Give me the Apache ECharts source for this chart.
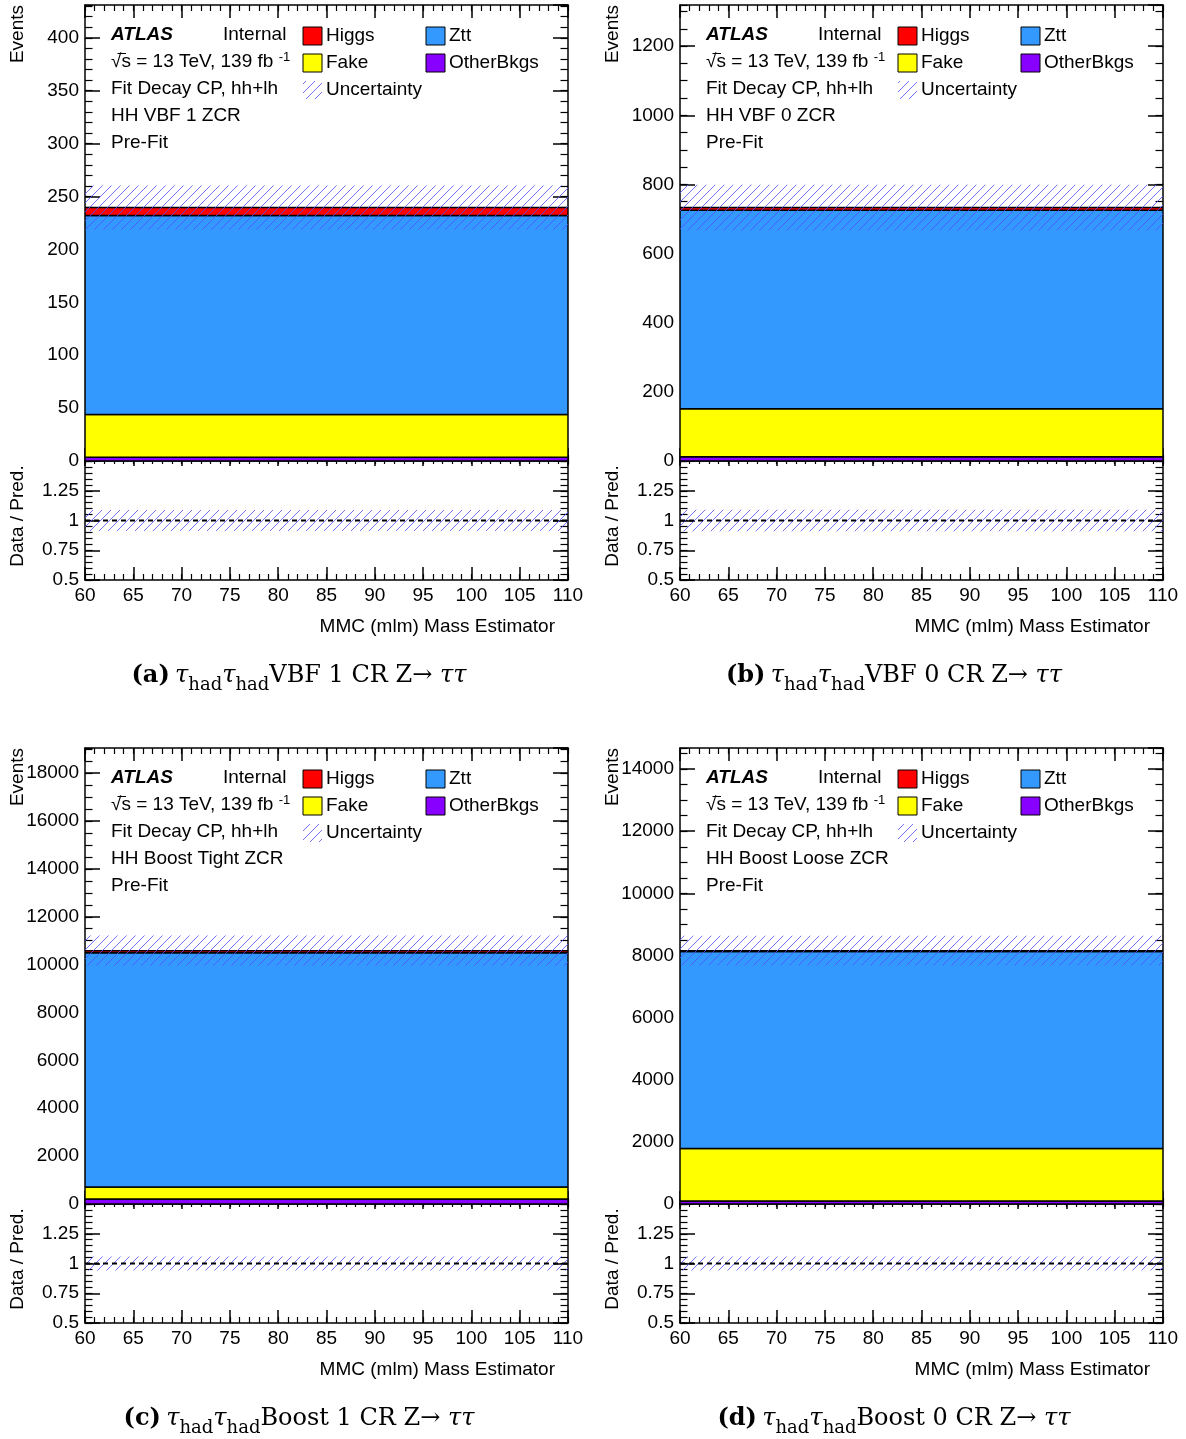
<!DOCTYPE html>
<html>
<head>
<meta charset="utf-8">
<script src="https://cdn.jsdelivr.net/npm/echarts@6/dist/echarts.min.js"></script>
<style>
  html, body { margin: 0; padding: 0; background: #fff; }
  #c { width: 1186px; height: 1439px; }
</style>
</head>
<body>
<div id="c"></div>
<script>
// Pre-fit yields in the Z->tautau control regions, one MMC bin from 60 to 110
const panelTags = ['(a)', '(b)', '(c)', '(d)'];
const regionLabels = ['HH VBF 1 ZCR', 'HH VBF 0 ZCR', 'HH Boost Tight ZCR', 'HH Boost Loose ZCR'];
const captionTexts = ['VBF 1 CR Z→ ', 'VBF 0 CR Z→ ', 'Boost 1 CR Z→ ', 'Boost 0 CR Z→ '];
const otherBkgs = [3.5, 12, 210, 100];
const fake = [40.5, 139, 500, 1690];
const ztt = [188, 574, 9790, 6340];
const higgs = [7.5, 8, 85, 25];
const uncertainty = [21, 66, 630, 480];
const eventsMax = [431, 1319, 19050, 14680];
const eventsMajor = [50, 200, 2000, 2000];
const eventsMinor = [10, 50, 500, 500];
const massRange = [60, 110];
const ratioRange = [0.5, 1.5];

const COLORS = { higgs: '#ff0000', ztt: '#3399ff', fake: '#ffff00', other: '#8800ff' };
const FONT = '"Liberation Sans", Arial, Helvetica, sans-serif';
const SERIF = '"DejaVu Serif", "Liberation Serif", serif';
const FS = 19;

// panel geometry
const colX = [85, 680], rowY = [5, 748];
const FW = 483, MH = 456, RH = 119;

function makeHatch() {
  const s = 9, c = document.createElement('canvas');
  c.width = s; c.height = s;
  const g = c.getContext('2d');
  g.strokeStyle = 'rgba(80,80,255,0.8)';
  g.lineWidth = 1;
  g.beginPath();
  g.moveTo(0, s); g.lineTo(s, 0);
  g.moveTo(-1, 1); g.lineTo(1, -1);
  g.moveTo(s - 1, s + 1); g.lineTo(s + 1, s - 1);
  g.stroke();
  return c;
}
const hatch = { image: makeHatch(), repeat: 'repeat' };

const grids = [], xAxes = [], yAxes = [], series = [], graphics = [];

function axisPair(list, gi, pos, min, max, major, minor, majLen, minLen, label) {
  const idx = list.length;
  const common = { type: 'value', gridIndex: gi, position: pos, min: min, max: max,
    splitLine: { show: false }, axisPointer: { show: false } };
  list.push(Object.assign({}, common, {
    interval: major,
    axisLine: { show: true, onZero: false, lineStyle: { color: '#000', width: 1.5 } },
    axisTick: { show: true, inside: true, length: majLen, lineStyle: { color: '#000', width: 1.5 } },
    axisLabel: label ? label : { show: false }
  }));
  list.push(Object.assign({}, common, {
    interval: minor,
    axisLine: { show: false, onZero: false },
    axisTick: { show: true, inside: true, length: minLen, lineStyle: { color: '#000', width: 1.2 } },
    axisLabel: { show: false }
  }));
  return idx;
}

function rectSeries(xi, yi, rows, fill, stroke, lw, z) {
  return {
    type: 'custom', xAxisIndex: xi, yAxisIndex: yi, clip: true, z: z, silent: true,
    data: rows,
    renderItem: function (params, api) {
      const a = api.coord([api.value(0), api.value(3)]);
      const b = api.coord([api.value(1), api.value(2)]);
      return { type: 'rect',
        shape: { x: a[0], y: a[1], width: b[0] - a[0], height: b[1] - a[1] },
        style: { fill: fill, stroke: stroke, lineWidth: lw } };
    }
  };
}

const labelStyle = (extra) => Object.assign({ show: true, color: '#000', fontSize: FS,
  fontFamily: FONT, formatter: (v) => String(v) }, extra);

function text(x, y, str, extra) {
  graphics.push({ type: 'text', x: x, y: y, silent: true,
    style: Object.assign({ text: str, fontSize: FS, fontFamily: FONT, fill: '#000',
      align: 'left', verticalAlign: 'middle' }, extra) });
}
function box(x, y, fill, stroke) {
  graphics.push({ type: 'rect', silent: true, shape: { x: x, y: y, width: 19, height: 18 },
    style: { fill: fill, stroke: stroke || null, lineWidth: 1 } });
}

for (let i = 0; i < 4; i++) {
  const ox = colX[i % 2], oy = rowY[Math.floor(i / 2)];

  // main (stacked) panel
  const gm = grids.length;
  grids.push({ left: ox, top: oy, width: FW, height: MH, show: false });
  const xm = axisPair(xAxes, gm, 'bottom', massRange[0], massRange[1], 5, 1, 13, 6, null);
  axisPair(xAxes, gm, 'top', massRange[0], massRange[1], 5, 1, 13, 6, null);
  const ym = axisPair(yAxes, gm, 'left', 0, eventsMax[i], eventsMajor[i], eventsMinor[i], 15, 7.5,
    labelStyle({ margin: 6, showMaxLabel: false }));
  axisPair(yAxes, gm, 'right', 0, eventsMax[i], eventsMajor[i], eventsMinor[i], 15, 7.5, null);

  const b1 = otherBkgs[i], b2 = b1 + fake[i], b3 = b2 + ztt[i], b4 = b3 + higgs[i];
  const lo = massRange[0], hi = massRange[1];
  series.push(rectSeries(xm, ym, [[lo, hi, 0, b1]], COLORS.other, '#000', 1.5, 2));
  series.push(rectSeries(xm, ym, [[lo, hi, b1, b2]], COLORS.fake, '#000', 1.5, 2));
  series.push(rectSeries(xm, ym, [[lo, hi, b2, b3]], COLORS.ztt, '#000', 1.5, 2));
  series.push(rectSeries(xm, ym, [[lo, hi, b3, b4]], COLORS.higgs, '#000', 1.5, 3));
  series.push(rectSeries(xm, ym, [[lo, hi, b4 - uncertainty[i], b4 + uncertainty[i]]], hatch, null, 0, 4));

  // ratio panel
  const gr = grids.length;
  grids.push({ left: ox, top: oy + MH, width: FW, height: RH, show: false });
  const xr = axisPair(xAxes, gr, 'bottom', massRange[0], massRange[1], 5, 1, 13, 6,
    labelStyle({ margin: 6 }));
  axisPair(xAxes, gr, 'top', massRange[0], massRange[1], 5, 1, 5, 3, null);
  const yr = axisPair(yAxes, gr, 'left', ratioRange[0], ratioRange[1], 0.25, 0.05, 15, 7.5,
    labelStyle({ margin: 6, showMaxLabel: false }));
  axisPair(yAxes, gr, 'right', ratioRange[0], ratioRange[1], 0.25, 0.05, 15, 7.5, null);

  const rel = uncertainty[i] / b4;
  series.push(rectSeries(xr, yr, [[lo, hi, 1 - rel, 1 + rel]], hatch, null, 0, 2));
  series.push({ type: 'line', xAxisIndex: xr, yAxisIndex: yr, symbol: 'none', silent: true, z: 3,
    data: [[lo, 1], [hi, 1]], lineStyle: { color: '#000', width: 2, type: [5, 4] } });

  // axis titles
  graphics.push({ type: 'text', x: ox - 67, y: oy, rotation: Math.PI / 2, silent: true,
    style: { text: 'Events', fontSize: FS, fontFamily: FONT, fill: '#000', align: 'right', verticalAlign: 'middle' } });
  graphics.push({ type: 'text', x: ox - 67, y: oy + 511, rotation: Math.PI / 2, silent: true,
    style: { text: 'Data / Pred.', fontSize: FS, fontFamily: FONT, fill: '#000', align: 'center', verticalAlign: 'middle' } });
  text(ox + 470, oy + 622, 'MMC (mlm) Mass Estimator', { align: 'right' });

  // ATLAS labels
  text(ox + 26, oy + 30, 'ATLAS', { fontSize: 19, fontWeight: 'bold', fontStyle: 'italic' });
  text(ox + 138, oy + 30, 'Internal');
  text(ox + 26, oy + 57, '{n|√s = 13 TeV, 139 fb }{u|-1}', {
    rich: { n: { fontSize: FS, fontFamily: FONT, fill: '#000' },
            u: { fontSize: 13, fontFamily: FONT, fill: '#000', verticalAlign: 'top', padding: [0, 0, 10, 0] } } });
  // bar over the s of the square root
  graphics.push({ type: 'line', silent: true,
    shape: { x1: ox + 32.5, y1: oy + 48.5, x2: ox + 41, y2: oy + 48.5 },
    style: { stroke: '#000', lineWidth: 1 } });
  text(ox + 26, oy + 84, 'Fit Decay CP, hh+lh');
  text(ox + 26, oy + 111, regionLabels[i]);
  text(ox + 26, oy + 138, 'Pre-Fit');

  // legend
  box(ox + 218, oy + 22, COLORS.higgs, '#000');
  text(ox + 241, oy + 31, 'Higgs');
  box(ox + 341, oy + 22, COLORS.ztt, '#000');
  text(ox + 364, oy + 31, 'Ztt');
  box(ox + 218, oy + 49, COLORS.fake, '#000');
  text(ox + 241, oy + 58, 'Fake');
  box(ox + 341, oy + 49, COLORS.other, '#000');
  text(ox + 364, oy + 58, 'OtherBkgs');
  box(ox + 218, oy + 76, hatch, null);
  text(ox + 241, oy + 85, 'Uncertainty');

  // caption
  text(ox + 214, oy + 671,
    '{b|' + panelTags[i] + '} {t|τ}{s|had}{t|τ}{s|had}{r|' + captionTexts[i] + '}{t|ττ}', {
      align: 'center',
      rich: {
        b: { fontSize: 24, fontFamily: SERIF, fontWeight: 'bold', fill: '#000' },
        t: { fontSize: 24, fontFamily: SERIF, fontStyle: 'italic', fill: '#000' },
        s: { fontSize: 18, fontFamily: SERIF, fill: '#000', verticalAlign: 'bottom', padding: [19, 0, 0, 0] },
        r: { fontSize: 24, fontFamily: SERIF, fill: '#000' }
      } });
}

const chart = echarts.init(document.getElementById('c'), null, { renderer: 'canvas', width: 1186, height: 1439 });
chart.setOption({
  animation: false,
  backgroundColor: '#fff',
  grid: grids,
  xAxis: xAxes,
  yAxis: yAxes,
  series: series,
  graphic: graphics
});
</script>
</body>
</html>
